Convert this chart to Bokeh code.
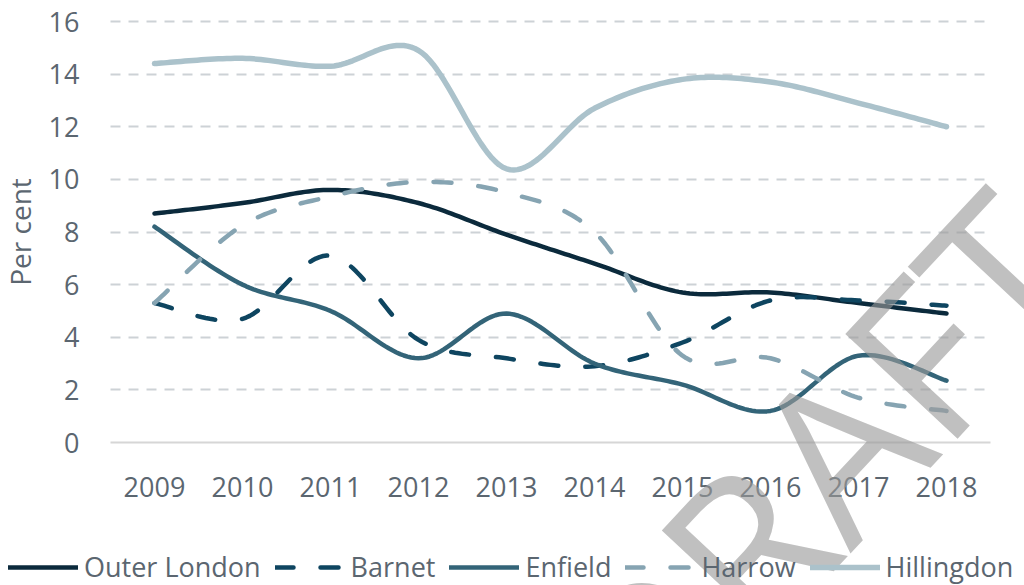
import numpy as np
from bokeh.plotting import figure
from bokeh.models import Range1d, FixedTicker, Legend, LegendItem, Label
from bokeh.embed import file_html
from bokeh.resources import INLINE

years = [2009, 2010, 2011, 2012, 2013, 2014, 2015, 2016, 2017, 2018]
outer_london = [8.7, 9.1, 9.6, 9.1, 7.9, 6.8, 5.7, 5.7, 5.3, 4.9]
barnet = [5.3, 4.7, 7.1, 3.9, 3.2, 2.9, 3.8, 5.4, 5.4, 5.2]
enfield = [8.2, 6.0, 5.0, 3.2, 4.9, 3.0, 2.2, 1.2, 3.3, 2.35]
harrow = [5.3, 8.25, 9.35, 9.9, 9.5, 8.0, 3.3, 3.2, 1.7, 1.2]
hillingdon = [14.4, 14.6, 14.3, 14.9, 10.4, 12.7, 13.8, 13.7, 12.9, 12.0]

series_names = ["Outer London", "Barnet", "Enfield", "Harrow", "Hillingdon"]
y_ticks = [0, 2, 4, 6, 8, 10, 12, 14, 16]

FONT = "Open Sans"
TEXT = "#5b6670"

# canvas layout (pixels): the plotting area of the chart inside the canvas
W, H = 1024, 585
AREA_L, AREA_R, AREA_T, AREA_B = 110, 990, 21, 442
X0, X1 = years[0] - 0.5, years[-1] + 0.5
Y0, Y1 = y_ticks[0], y_ticks[-1]
ppx = (AREA_R - AREA_L) / (X1 - X0)
ppy = (AREA_B - AREA_T) / (Y1 - Y0)
x_range = Range1d(X0 - AREA_L / ppx, X1 + (W - AREA_R) / ppx)
y_range = Range1d(Y0 - (H - AREA_B) / ppy, Y1 + AREA_T / ppy)


def smooth(xs, ys, steps=24):
    """Excel-like smoothed rendering (Catmull-Rom Bezier) of the series."""
    xs = np.asarray(xs, float)
    ys = np.asarray(ys, float)
    n = len(xs)
    px, py = [], []
    for i in range(n - 1):
        x0, y0 = xs[i], ys[i]
        x3, y3 = xs[i + 1], ys[i + 1]
        xm, ym = xs[max(i - 1, 0)], ys[max(i - 1, 0)]
        xp, yp = xs[min(i + 2, n - 1)], ys[min(i + 2, n - 1)]
        x1, y1 = x0 + (x3 - xm) / 6.0, y0 + (y3 - ym) / 6.0
        x2, y2 = x3 - (xp - x0) / 6.0, y3 - (yp - y0) / 6.0
        t = np.linspace(0, 1, steps, endpoint=(i == n - 2))
        a = (1 - t) ** 3
        b = 3 * (1 - t) ** 2 * t
        c = 3 * (1 - t) * t ** 2
        d = t ** 3
        px.extend(a * x0 + b * x1 + c * x2 + d * x3)
        py.extend(a * y0 + b * y1 + c * y2 + d * y3)
    return px, py


p = figure(width=W, height=H, output_backend="svg", toolbar_location=None,
           x_range=x_range, y_range=y_range)
p.min_border = 0
p.outline_line_color = None
p.background_fill_color = "white"
p.border_fill_color = "white"

# grid
p.xgrid.visible = False
p.ygrid.ticker = FixedTicker(ticks=y_ticks[1:])
p.ygrid.grid_line_color = "#cdd2d6"
p.ygrid.grid_line_width = 2
p.ygrid.grid_line_dash = "10 8"
try:
    p.ygrid.cross_bounds = (X0, X1)
except Exception:
    p.ygrid.visible = False
    for t in y_ticks[1:]:
        p.segment(x0=[X0], y0=[t], x1=[X1], y1=[t], line_color="#cdd2d6",
                  line_width=2, line_dash="10 8", level="underlay")

# axes
p.xaxis.fixed_location = Y0
p.xaxis.bounds = (X0, X1)
p.xaxis.ticker = FixedTicker(ticks=years)
p.xaxis.axis_line_color = "#d6d6d6"
p.xaxis.axis_line_width = 2
p.xaxis.major_tick_line_color = None
p.xaxis.minor_tick_line_color = None
p.xaxis.major_label_text_font = FONT
p.xaxis.major_label_text_font_size = "27px"
p.xaxis.major_label_text_color = TEXT
p.xaxis.major_label_standoff = 28

p.yaxis.fixed_location = X0
p.yaxis.bounds = (Y0, Y1)
p.yaxis.ticker = FixedTicker(ticks=y_ticks)
p.yaxis.axis_line_color = None
p.yaxis.major_tick_line_color = None
p.yaxis.minor_tick_line_color = None
p.yaxis.major_label_text_font = FONT
p.yaxis.major_label_text_font_size = "27px"
p.yaxis.major_label_text_color = TEXT
p.yaxis.major_label_standoff = 25
p.yaxis.axis_label = "Per cent"
p.yaxis.axis_label_text_font = FONT
p.yaxis.axis_label_text_font_size = "28px"
p.yaxis.axis_label_text_font_style = "normal"
p.yaxis.axis_label_text_color = TEXT
p.yaxis.axis_label_standoff = 7

styles = [
    (outer_london, "#0b2a3c", None, 4.5),
    (barnet, "#0e4560", "18 27", 4.5),
    (enfield, "#336478", None, 4.5),
    (harrow, "#86a4b2", "18 27", 4.5),
    (hillingdon, "#abc2cb", None, 5.5),
]

items = []
for name, (vals, color, dash, lw) in zip(series_names, styles):
    sx, sy = smooth(years, vals)
    kw = dict(line_color=color, line_width=lw, line_cap="round", line_join="round")
    if dash:
        kw["line_dash"] = dash
    r = p.line(sx, sy, **kw)
    items.append(LegendItem(label=name, renderers=[r]))

legend = Legend(items=items, orientation="horizontal", location=(8, 0),
                glyph_width=70, glyph_height=30, label_height=30, label_standoff=6,
                spacing=14, padding=0, margin=0, border_line_color=None,
                background_fill_alpha=0,
                label_text_font=FONT, label_text_font_size="27px",
                label_text_color=TEXT)
p.add_layout(legend, "center")

watermark = Label(x=X0 + (815 - AREA_L) / ppx, y=Y0 - (468 - AREA_B) / ppy,
                  text="DRAFT", angle=0.82,
                  text_font=FONT, text_font_size="215px",
                  text_color="#9a9a9a", text_alpha=0.62,
                  text_align="center", text_baseline="middle",
                  level="overlay")
p.add_layout(watermark)

open("out.html", "w").write(file_html(p, INLINE))
